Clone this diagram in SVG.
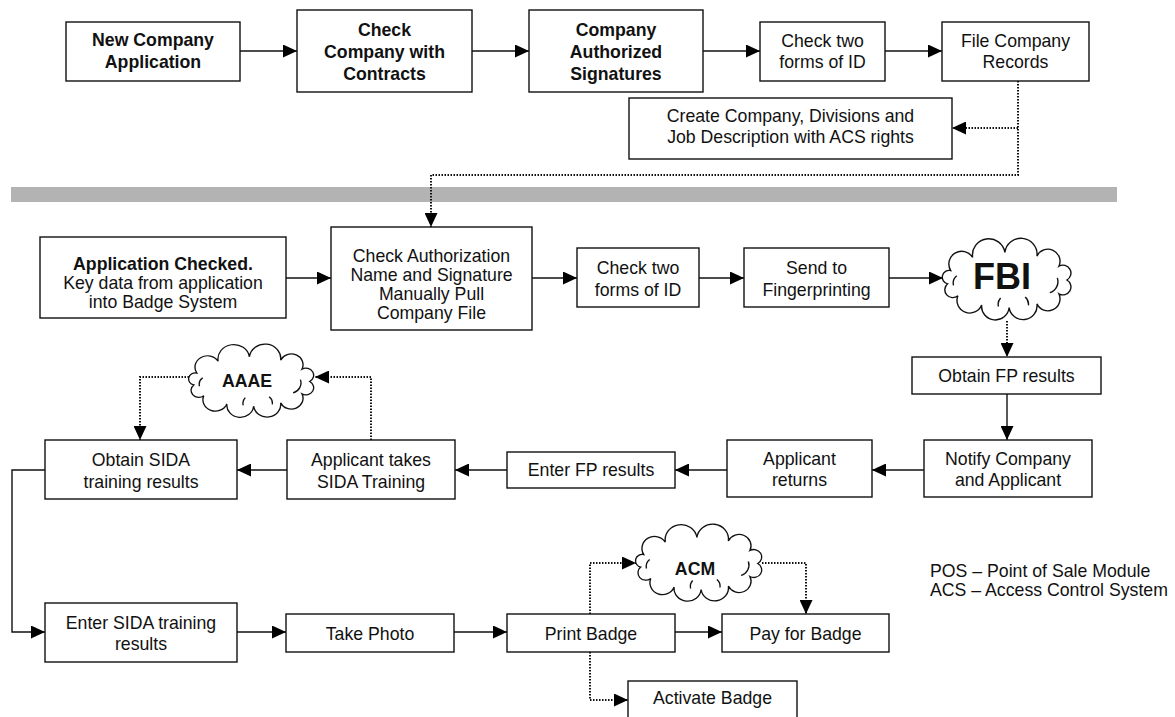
<svg xmlns="http://www.w3.org/2000/svg" width="1175" height="717" viewBox="0 0 1175 717">
<style>
.box{fill:#fff;stroke:#111;stroke-width:1.4}
.t{font-family:"Liberation Sans",Arial,sans-serif;font-size:17.7px;fill:#111;text-anchor:middle}
.b{font-weight:bold}
.ln{fill:none;stroke:#111;stroke-width:1.4}
.dot{fill:none;stroke:#111;stroke-width:2;stroke-dasharray:1.5 1.5}
.cl{fill:#fff;stroke:#111;stroke-width:1.3}
.ci{fill:none;stroke:#111;stroke-width:1.3}
</style>
<defs>
<marker id="ah" viewBox="0 0 14 13" refX="14" refY="6.5" markerWidth="14" markerHeight="13" markerUnits="userSpaceOnUse" orient="auto">
<path d="M0,0 L14,6.5 L0,13 z" fill="#000"/>
</marker>
<g id="cloud">
<path class="cl" d="M-52.6,-8.9 A1 1 0 0 1 -32.1,-21.3 A1 1 0 0 1 -2,-26 A1 1 0 0 1 28,-22.5 A1 1 0 0 1 48.5,-13 A1 1 0 0 1 56,0 A1 1 0 0 1 48.5,13 A1 1 0 0 1 28,22.5 A1 1 0 0 1 2,26 A1 1 0 0 1 -23.7,23.6 A1 1 0 0 1 -45.9,14.9 A1 1 0 0 1 -55.5,3.6 A1 1 0 0 1 -52.6,-8.9 Z"/>
<path class="ci" d="M40,12 A11 11 0 0 0 47,-2 M-50,5 A9 9 0 0 1 -47,-4 M-8,25 A9 9 0 0 1 -6,17 M20,24 A9 9 0 0 0 17,16"/>
</g>
</defs>
<rect x="11" y="187" width="1106" height="15" fill="#b3b3b3"/>
<g id="connectors">
<path class="ln" d="M240,51 H297" marker-end="url(#ah)"/>
<path class="ln" d="M472,51 H529" marker-end="url(#ah)"/>
<path class="ln" d="M703,51 H760" marker-end="url(#ah)"/>
<path class="ln" d="M885,51 H942" marker-end="url(#ah)"/>
<path class="dot" d="M1018,81 V175 H431 V227" marker-end="url(#ah)"/>
<path class="dot" d="M1018,128 H952" marker-end="url(#ah)"/>
<path class="ln" d="M286,278 H331" marker-end="url(#ah)"/>
<path class="ln" d="M532,278 H577" marker-end="url(#ah)"/>
<path class="ln" d="M699,278 H744" marker-end="url(#ah)"/>
<path class="ln" d="M889,278 H943" marker-end="url(#ah)"/>
<path class="dot" d="M1007,321 V357" marker-end="url(#ah)"/>
<path class="ln" d="M1007,394 V440" marker-end="url(#ah)"/>
<path class="ln" d="M924,470 H872" marker-end="url(#ah)"/>
<path class="ln" d="M727,470 H675" marker-end="url(#ah)"/>
<path class="ln" d="M507,470 H455" marker-end="url(#ah)"/>
<path class="ln" d="M287,470 H237" marker-end="url(#ah)"/>
<path class="dot" d="M371,440 V377 H315" marker-end="url(#ah)"/>
<path class="dot" d="M189,377 H140 V440" marker-end="url(#ah)"/>
<path class="ln" d="M45,470 H12 V632 H45" marker-end="url(#ah)"/>
<path class="ln" d="M237,632 H286" marker-end="url(#ah)"/>
<path class="ln" d="M454,632 H507" marker-end="url(#ah)"/>
<path class="ln" d="M675,632 H722" marker-end="url(#ah)"/>
<path class="dot" d="M590,614 V563 H636" marker-end="url(#ah)"/>
<path class="dot" d="M762,563 H806 V614" marker-end="url(#ah)"/>
<path class="dot" d="M590,652 V700 H628" marker-end="url(#ah)"/>
</g>
<g id="n1"><rect class="box" x="66" y="22" width="174" height="59"/><text class="t b" x="153" y="46">New Company</text><text class="t b" x="153" y="68">Application</text></g>
<g id="n2"><rect class="box" x="297" y="10" width="175" height="82"/><text class="t b" x="384.5" y="36">Check</text><text class="t b" x="384.5" y="58">Company with</text><text class="t b" x="384.5" y="80">Contracts</text></g>
<g id="n3"><rect class="box" x="529" y="10" width="174" height="82"/><text class="t b" x="616" y="36">Company</text><text class="t b" x="616" y="58">Authorized</text><text class="t b" x="616" y="80">Signatures</text></g>
<g id="n4"><rect class="box" x="760" y="22" width="125" height="59"/><text class="t" x="822.5" y="47">Check two</text><text class="t" x="822.5" y="68">forms of ID</text></g>
<g id="n5"><rect class="box" x="942" y="22" width="147" height="59"/><text class="t" x="1015.5" y="47">File Company</text><text class="t" x="1015.5" y="68">Records</text></g>
<g id="n6"><rect class="box" x="629" y="98" width="323" height="61"/><text class="t" x="790.5" y="122">Create Company, Divisions and</text><text class="t" x="790.5" y="143">Job Description with ACS rights</text></g>
<g id="n7"><rect class="box" x="40" y="237" width="246" height="81"/><text class="t b" x="163" y="270">Application Checked.</text><text class="t" x="163" y="289">Key data from application</text><text class="t" x="163" y="308">into Badge System</text></g>
<g id="n8"><rect class="box" x="331" y="227" width="201" height="103"/><text class="t" x="431.5" y="262">Check Authorization</text><text class="t" x="431.5" y="281">Name and Signature</text><text class="t" x="431.5" y="300">Manually Pull</text><text class="t" x="431.5" y="319">Company File</text></g>
<g id="n9"><rect class="box" x="577" y="248" width="122" height="59"/><text class="t" x="638" y="274">Check two</text><text class="t" x="638" y="296">forms of ID</text></g>
<g id="n10"><rect class="box" x="744" y="248" width="145" height="59"/><text class="t" x="816.5" y="274">Send to</text><text class="t" x="816.5" y="296">Fingerprinting</text></g>
<g id="fbi"><use href="#cloud" transform="translate(1007,280) scale(1.07,1.06)"/><text class="t b" x="1002" y="289" style="font-size:36px">FBI</text></g>
<g id="n11"><rect class="box" x="912" y="357" width="189" height="37"/><text class="t" x="1006.5" y="382">Obtain FP results</text></g>
<g id="n12"><rect class="box" x="924" y="440" width="168" height="57"/><text class="t" x="1008" y="465">Notify Company</text><text class="t" x="1008" y="486">and Applicant</text></g>
<g id="n13"><rect class="box" x="727" y="440" width="145" height="57"/><text class="t" x="799.5" y="465">Applicant</text><text class="t" x="799.5" y="486">returns</text></g>
<g id="n14"><rect class="box" x="507" y="452" width="168" height="36"/><text class="t" x="591" y="476">Enter FP results</text></g>
<g id="n15"><rect class="box" x="287" y="440" width="168" height="59"/><text class="t" x="371" y="466">Applicant takes</text><text class="t" x="371" y="488">SIDA Training</text></g>
<g id="n16"><rect class="box" x="45" y="440" width="192" height="59"/><text class="t" x="141" y="466">Obtain SIDA</text><text class="t" x="141" y="488">training results</text></g>
<g id="aaae"><use href="#cloud" transform="translate(251.5,381.5) scale(1.04,0.95)"/><text class="t b" x="247" y="387">AAAE</text></g>
<g id="n17"><rect class="box" x="45" y="603" width="192" height="59"/><text class="t" x="141" y="629">Enter SIDA training</text><text class="t" x="141" y="650">results</text></g>
<g id="n18"><rect class="box" x="286" y="614" width="168" height="38"/><text class="t" x="370" y="640">Take Photo</text></g>
<g id="n19"><rect class="box" x="507" y="614" width="168" height="38"/><text class="t" x="591" y="640">Print Badge</text></g>
<g id="n20"><rect class="box" x="722" y="614" width="167" height="38"/><text class="t" x="805.5" y="640">Pay for Badge</text></g>
<g id="acm"><use href="#cloud" transform="translate(699,563.5) scale(1.05,1)"/><text class="t b" x="695" y="575">ACM</text></g>
<g id="n21"><rect class="box" x="628" y="681" width="169" height="40"/><text class="t" x="712.5" y="704">Activate Badge</text></g>
<g id="legend"><text class="t" style="text-anchor:start" x="930" y="577">POS – Point of Sale Module</text><text class="t" style="text-anchor:start" x="930" y="595.5">ACS – Access Control System</text></g>
</svg>
